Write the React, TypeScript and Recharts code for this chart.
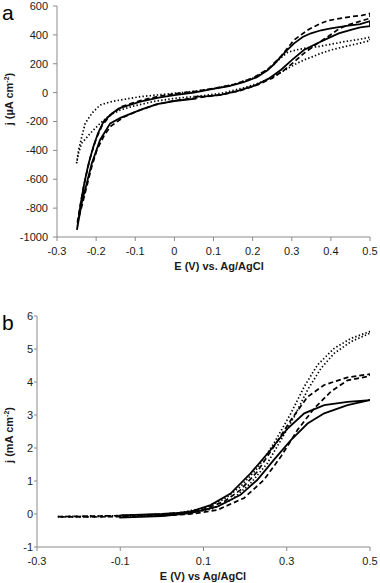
import React from 'react';
import { LineChart, Line, XAxis, YAxis } from 'recharts';

// Panel a: CV loops, E (V) vs j (µA cm-2)
const aSolid: [number, number][] = [
  [-0.249, -951], [-0.24, -780], [-0.232, -651], [-0.22, -500], [-0.207, -374], [-0.195, -280],
  [-0.181, -200], [-0.16, -145], [-0.138, -106], [-0.087, -63], [-0.04, -35], [0.0, -18],
  [0.05, 0], [0.092, 22], [0.14, 45], [0.177, 72], [0.21, 105], [0.238, 155], [0.256, 200],
  [0.272, 249], [0.29, 300], [0.306, 341], [0.328, 385], [0.349, 411], [0.375, 432],
  [0.4, 445], [0.44, 462], [0.475, 475], [0.5, 495],
  [0.5, 460], [0.475, 452], [0.451, 434], [0.42, 410], [0.392, 376], [0.36, 335], [0.331, 295],
  [0.3, 225], [0.272, 157], [0.24, 95], [0.203, 46], [0.16, 10], [0.118, -16], [0.08, -26],
  [0.054, -28], [0.054, -42], [0.0, -58], [-0.044, -80], [-0.087, -120], [-0.138, -175],
  [-0.164, -213], [-0.19, -328], [-0.211, -490], [-0.237, -767], [-0.249, -951],
];

const aDashed: [number, number][] = [
  [-0.248, -900], [-0.238, -740], [-0.228, -600], [-0.215, -450], [-0.2, -320], [-0.185, -230],
  [-0.165, -160], [-0.138, -100], [-0.087, -55], [-0.04, -25], [0.0, -8], [0.05, 8],
  [0.1, 28], [0.15, 55], [0.2, 100], [0.238, 160], [0.272, 249], [0.306, 365], [0.341, 434],
  [0.37, 475], [0.392, 498], [0.42, 512], [0.451, 526], [0.48, 535], [0.5, 549],
  [0.5, 515], [0.443, 468], [0.42, 440], [0.392, 387], [0.36, 330], [0.331, 272], [0.305, 210],
  [0.281, 157], [0.25, 100], [0.212, 53], [0.17, 15], [0.12, -15], [0.06, -35], [0.0, -55],
  [-0.05, -85], [-0.087, -120], [-0.13, -170], [-0.164, -236], [-0.18, -300], [-0.198, -397],
  [-0.212, -520], [-0.224, -651], [-0.236, -780], [-0.248, -900],
];

const aDotted: [number, number][] = [
  [-0.25, -490], [-0.245, -400], [-0.236, -300], [-0.228, -213], [-0.21, -140], [-0.19, -86],
  [-0.165, -65], [-0.138, -51], [-0.087, -28], [-0.04, -15], [0.0, -5], [0.05, 8], [0.1, 28],
  [0.15, 55], [0.2, 100], [0.238, 157], [0.272, 240], [0.29, 280], [0.315, 298], [0.34, 310],
  [0.366, 318], [0.4, 335], [0.434, 353], [0.47, 368], [0.5, 383],
  [0.5, 360], [0.47, 340], [0.434, 318], [0.4, 295], [0.374, 272], [0.35, 245], [0.331, 226],
  [0.31, 198], [0.29, 168], [0.26, 120], [0.22, 70], [0.18, 35], [0.12, -5], [0.06, -25],
  [0.0, -40], [-0.05, -60], [-0.1, -90], [-0.138, -120], [-0.164, -155], [-0.19, -213],
  [-0.215, -282], [-0.237, -351], [-0.245, -420], [-0.25, -490],
];

// Panel b: E (V) vs j (mA cm-2)
const bSolid: [number, number][] = [
  [-0.1, -0.04], [-0.05, -0.02], [0.0, 0.0], [0.04, 0.03], [0.069, 0.07], [0.117, 0.27],
  [0.165, 0.62], [0.213, 1.23], [0.261, 1.94], [0.302, 2.59], [0.342, 3.05], [0.39, 3.3],
  [0.446, 3.4], [0.5, 3.45],
  [0.446, 3.3], [0.39, 3.05], [0.35, 2.74], [0.31, 2.24], [0.269, 1.64], [0.229, 1.03],
  [0.189, 0.58], [0.133, 0.22], [0.069, 0.03], [0.0, -0.06], [-0.05, -0.09], [-0.1, -0.11],
  [-0.1, -0.04],
];

const bDashed: [number, number][] = [
  [-0.25, -0.08], [-0.2, -0.07], [-0.15, -0.06], [-0.1, -0.05], [-0.05, -0.03], [0.0, -0.01],
  [0.05, 0.04], [0.1, 0.14], [0.15, 0.38], [0.189, 0.73], [0.229, 1.28], [0.269, 2.04],
  [0.31, 2.85], [0.35, 3.55], [0.39, 3.91], [0.446, 4.14], [0.5, 4.24],
  [0.5, 4.18], [0.446, 4.05], [0.406, 3.71], [0.366, 3.2], [0.326, 2.55], [0.286, 1.74],
  [0.245, 1.03], [0.197, 0.48], [0.133, 0.12], [0.07, 0.0], [0.0, -0.05], [-0.1, -0.08],
  [-0.2, -0.09], [-0.25, -0.09],
];

const bDotted: [number, number][] = [
  [-0.25, -0.08], [-0.2, -0.07], [-0.1, -0.05], [0.0, -0.01], [0.05, 0.05], [0.1, 0.18],
  [0.15, 0.45], [0.189, 0.83], [0.229, 1.38], [0.269, 2.14], [0.31, 3.05], [0.342, 3.86],
  [0.374, 4.52], [0.414, 5.02], [0.454, 5.32], [0.5, 5.53],
  [0.5, 5.48], [0.454, 5.22], [0.414, 4.87], [0.382, 4.41], [0.35, 3.76], [0.318, 2.95],
  [0.286, 2.24], [0.253, 1.53], [0.213, 0.93], [0.17, 0.45], [0.12, 0.15], [0.06, 0.02],
  [0.0, -0.04], [-0.1, -0.07], [-0.2, -0.09], [-0.25, -0.09],
];

const aXTicks = [-0.3, -0.2, -0.1, 0, 0.1, 0.2, 0.3, 0.4, 0.5];
const aYTicks = [-1000, -800, -600, -400, -200, 0, 200, 400, 600];
const bXTicks = [-0.3, -0.1, 0.1, 0.3, 0.5];
const bYTicks = [-1, 0, 1, 2, 3, 4, 5, 6];

const toPoints = (arr: [number, number][]) => arr.map(([e, j]) => ({ e, j }));

const font = '"Liberation Sans", Arial, sans-serif';
const axisColor = '#8a8a8a';
const tickStyle = { fill: '#1a1a1a', fontSize: 11, fontFamily: font };

const styles = [
  { stroke: '#000', strokeWidth: 1.8, dash: undefined },
  { stroke: '#000', strokeWidth: 1.7, dash: '5 3' },
  { stroke: '#000', strokeWidth: 1.7, dash: '1.4 2.2' },
];

function curves(sets: [number, number][][]) {
  return sets.map((s, i) => (
    <Line
      key={i}
      data={toPoints(s)}
      dataKey="j"
      type="linear"
      stroke={styles[i].stroke}
      strokeWidth={styles[i].strokeWidth}
      strokeDasharray={styles[i].dash}
      dot={false}
      activeDot={false}
      isAnimationActive={false}
    />
  ));
}

const fmt = (v: number) => (v === 0 ? '0' : String(v));

export default function App() {
  return (
    <div style={{ position: 'absolute', left: 0, top: 0, width: 380, height: 583, background: '#fff', fontFamily: font }}>
      <div style={{ position: 'absolute', left: 0, top: 0 }}>
        <LineChart width={380} height={290} margin={{ top: 6, right: 10, left: 0, bottom: 23 }}>
          <XAxis
            type="number" dataKey="e" domain={[-0.3, 0.5]} ticks={aXTicks} allowDataOverflow
            stroke={axisColor} tick={tickStyle} tickSize={4} tickMargin={6} height={30}
            tickFormatter={fmt} interval={0}
          />
          <YAxis
            type="number" domain={[-1000, 600]} ticks={aYTicks} allowDataOverflow
            stroke={axisColor} tick={tickStyle} tickSize={4} tickMargin={5} width={57}
            interval={0}
          />
          {curves([aSolid, aDashed, aDotted])}
        </LineChart>
      </div>
      <div style={{ position: 'absolute', left: 0, top: 290 }}>
        <LineChart width={380} height={293} margin={{ top: 26, right: 10, left: 0, bottom: 6 }}>
          <XAxis
            type="number" dataKey="e" domain={[-0.3, 0.5]} ticks={bXTicks} allowDataOverflow
            stroke={axisColor} tick={tickStyle} tickSize={4} tickMargin={6} height={30}
            tickFormatter={fmt} interval={0}
          />
          <YAxis
            type="number" domain={[-1, 6]} ticks={bYTicks} allowDataOverflow
            stroke={axisColor} tick={tickStyle} tickSize={3} tickMargin={1} width={37}
            interval={0}
          />
          {curves([bSolid, bDashed, bDotted])}
        </LineChart>
      </div>
      <svg width={380} height={583} style={{ position: 'absolute', left: 0, top: 0, pointerEvents: 'none' }}>
        <text x={2} y={20} fontSize={21} fontFamily={font} fill="#000">a</text>
        <text x={2} y={330} fontSize={21} fontFamily={font} fill="#000">b</text>
        <text transform="translate(13,99) rotate(-90)" textAnchor="middle" fontSize={11} fontWeight="bold" fontFamily={font} fill="#1a1a1a">
          j (µA cm<tspan fontSize={7} dy={-4}>-2</tspan><tspan dy={4}>)</tspan>
        </text>
        <text transform="translate(13,435) rotate(-90)" textAnchor="middle" fontSize={11} fontWeight="bold" fontFamily={font} fill="#1a1a1a">
          j (mA cm<tspan fontSize={7} dy={-4}>-2</tspan><tspan dy={4}>)</tspan>
        </text>
        <text x={219} y={270} textAnchor="middle" fontSize={11} fontWeight="bold" fontFamily={font} fill="#1a1a1a">
          E (V) vs. Ag/AgCl
        </text>
        <text x={203} y={580} textAnchor="middle" fontSize={11} fontWeight="bold" fontFamily={font} fill="#1a1a1a">
          E (V) vs Ag/AgCl
        </text>
      </svg>
    </div>
  );
}
